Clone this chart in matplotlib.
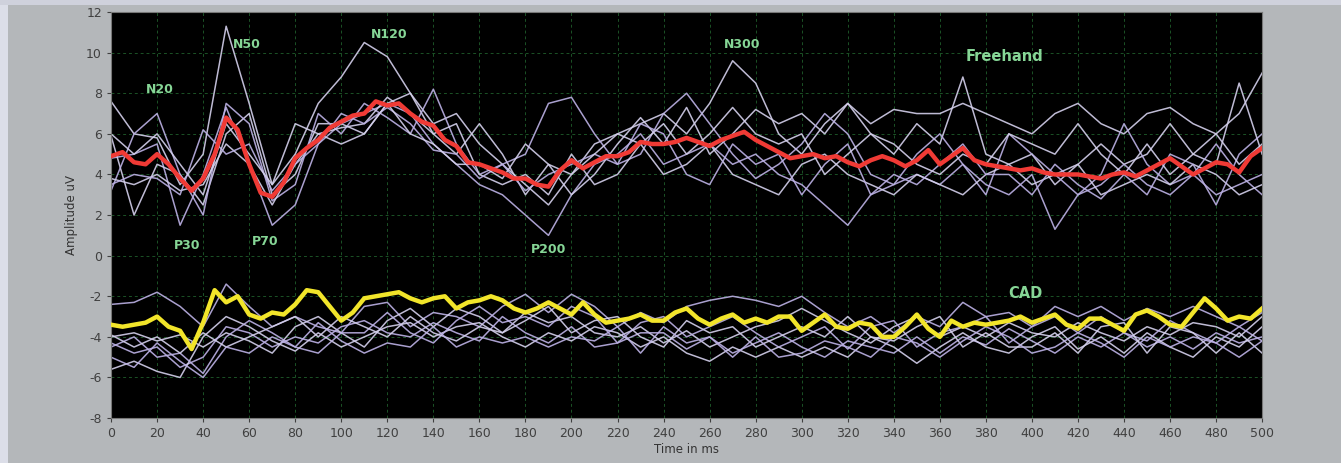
import matplotlib.pyplot as plt
from matplotlib.patches import Rectangle
import numpy as np

plt.rcParams["axes.unicode_minus"] = False

# time bases (ms)
t_mean = np.arange(0, 501, 5)
t_trial = np.arange(0, 501, 10)

# grand averages, every 5 ms
freehand_mean = [
    4.9, 5.1, 4.6, 4.5, 5.0, 4.5, 3.8, 3.2, 3.8, 5.0,
    6.8, 6.2, 4.5, 3.1, 2.9, 3.6, 4.8, 5.3, 5.7, 6.3,
    6.6, 6.9, 7.0, 7.6, 7.4, 7.5, 7.0, 6.6, 6.4, 5.7,
    5.4, 4.6, 4.5, 4.3, 4.1, 3.8, 3.8, 3.5, 3.4, 4.2,
    4.7, 4.3, 4.6, 4.9, 4.9, 5.1, 5.6, 5.5, 5.5, 5.6,
    5.8, 5.6, 5.4, 5.7, 5.9, 6.1, 5.7, 5.4, 5.1, 4.8,
    4.9, 5.0, 4.8, 4.9, 4.6, 4.4, 4.7, 4.9, 4.7, 4.4,
    4.7, 5.2, 4.5, 4.9, 5.3, 4.7, 4.5, 4.4, 4.3, 4.2,
    4.3, 4.1, 4.0, 4.0, 4.0, 3.9, 3.8, 4.0, 4.1, 3.9,
    4.2, 4.5, 4.8, 4.4, 4.0, 4.3, 4.6, 4.5, 4.1, 4.9,
    5.3,
]
cad_mean = [
    -3.4, -3.5, -3.4, -3.3, -3.0, -3.5, -3.7, -4.6, -3.3, -1.7,
    -2.3, -2.0, -2.9, -3.1, -2.8, -2.9, -2.4, -1.7, -1.8, -2.5,
    -3.2, -2.8, -2.1, -2.0, -1.9, -1.8, -2.1, -2.3, -2.1, -2.0,
    -2.6, -2.3, -2.2, -2.0, -2.2, -2.6, -2.8, -2.6, -2.3, -2.6,
    -2.9, -2.3, -2.9, -3.3, -3.2, -3.1, -2.9, -3.2, -3.2, -2.8,
    -2.6, -3.1, -3.4, -3.1, -2.9, -3.3, -3.1, -3.3, -3.0, -3.0,
    -3.7, -3.3, -2.9, -3.5, -3.6, -3.3, -3.4, -4.0, -4.0, -3.5,
    -2.9, -3.6, -4.0, -3.2, -3.5, -3.3, -3.4, -3.3, -3.2, -3.0,
    -3.3, -3.1, -2.9, -3.4, -3.6, -3.1, -3.1, -3.4, -3.7, -2.9,
    -2.7, -3.0, -3.4, -3.5, -2.8, -2.1, -2.6, -3.2, -3.0, -3.1,
    -2.6,
]

# single subject traces, every 10 ms
freehand_trials = [
    [7.6, 6.0, 5.8, 3.5, 5.0, 11.3, 7.5, 3.5, 5.0, 7.5, 8.8, 10.5, 9.8, 8.0, 6.5, 7.0, 5.5,
     4.5, 3.5, 2.5, 4.0, 5.5, 6.0, 6.5, 7.0, 6.0, 7.5, 9.6, 8.5, 6.0, 5.0, 6.5, 7.5, 6.0,
     5.0, 6.5, 5.5, 8.8, 5.0, 4.5, 5.0, 3.5, 4.5, 5.5, 4.5, 5.0, 6.5, 5.0, 4.5, 8.5, 5.0],
    [4.8, 5.0, 5.5, 1.5, 4.0, 7.3, 4.5, 1.5, 2.5, 5.5, 6.5, 7.0, 7.5, 7.0, 5.5, 4.5, 3.5,
     3.0, 2.0, 1.0, 3.0, 4.5, 5.0, 6.0, 4.5, 5.0, 5.5, 4.5, 5.0, 4.0, 3.5, 2.5, 1.5, 3.0,
     3.5, 4.0, 3.5, 4.5, 3.5, 3.0, 4.0, 1.3, 3.0, 3.5, 4.5, 3.5, 3.0, 4.0, 3.0, 3.5, 4.0],
    [5.9, 2.0, 4.5, 4.0, 2.5, 6.0, 7.0, 3.0, 4.0, 6.5, 6.5, 6.0, 7.5, 8.0, 6.0, 5.0, 6.5,
     5.0, 3.0, 4.5, 3.0, 4.0, 5.5, 6.8, 5.5, 7.3, 5.0, 6.0, 7.2, 6.5, 7.0, 6.0, 7.5, 6.5,
     7.2, 7.0, 7.0, 7.5, 7.0, 6.5, 6.0, 7.0, 7.5, 6.5, 6.0, 7.0, 7.3, 6.5, 6.0, 7.0, 9.0],
    [3.2, 6.0, 7.0, 4.0, 2.0, 7.5, 6.5, 2.7, 3.5, 7.0, 6.0, 7.5, 6.8, 6.0, 8.2, 5.5, 4.0,
     4.5, 5.0, 7.5, 7.8, 6.0, 4.5, 5.0, 7.0, 8.0, 6.5, 5.0, 3.8, 4.5, 5.5, 7.0, 6.0, 4.0,
     3.5, 5.0, 6.0, 4.5, 3.0, 6.0, 5.0, 4.0, 3.0, 4.0, 6.5, 4.5, 3.5, 4.0, 5.5, 4.0, 3.0],
    [3.8, 3.5, 4.0, 3.2, 3.5, 5.5, 4.5, 2.5, 4.5, 6.0, 6.3, 6.5, 7.8, 7.0, 6.0, 6.5, 4.0,
     3.5, 4.0, 3.0, 5.0, 3.5, 4.0, 5.5, 4.0, 4.5, 5.5, 4.0, 3.5, 3.0, 4.5, 5.0, 4.0, 3.5,
     3.0, 4.0, 3.5, 3.0, 4.0, 4.5, 3.5, 4.0, 4.5, 3.0, 3.5, 4.0, 3.5, 4.5, 4.0, 3.0, 3.5],
    [3.5, 4.0, 3.8, 3.0, 6.2, 5.0, 5.5, 3.2, 4.5, 5.5, 7.0, 6.5, 7.3, 6.5, 5.2, 5.0, 3.8,
     4.5, 3.2, 4.0, 4.5, 5.0, 4.5, 6.5, 6.0, 4.0, 3.5, 5.5, 4.5, 5.0, 3.0, 4.5, 5.5, 3.0,
     4.0, 3.5, 4.5, 5.5, 4.0, 4.0, 3.0, 4.5, 3.5, 2.8, 4.0, 3.0, 5.0, 4.5, 2.5, 5.0, 6.0],
    [6.0, 5.0, 6.0, 4.5, 3.0, 6.5, 5.0, 3.5, 6.5, 6.0, 5.5, 6.0, 7.5, 6.0, 5.5, 4.5, 4.5,
     3.8, 5.5, 4.5, 4.0, 5.0, 6.0, 5.5, 6.5, 5.0, 6.0, 7.3, 6.0, 5.5, 6.0, 4.0, 5.0, 6.0,
     5.5, 4.5, 4.0, 5.0, 4.5, 6.0, 5.5, 5.0, 6.5, 5.0, 4.0, 5.5, 4.0, 5.0, 6.0, 4.5, 5.5],
]
cad_trials = [
    [-2.4, -2.3, -1.8, -2.5, -3.5, -1.4, -2.5, -3.5, -3.0, -3.5, -3.8, -2.5, -2.3, -3.5,
     -2.8, -3.0, -3.5, -2.5, -1.9, -2.8, -1.9, -2.5, -3.5, -2.8, -3.3, -2.5, -2.2, -2.0,
     -2.2, -2.5, -2.0, -2.8, -3.5, -3.0, -3.8, -3.0, -3.5, -2.3, -3.0, -2.8, -3.5, -2.5,
     -3.0, -2.5, -3.2, -2.6, -3.0, -2.5, -3.0, -3.5, -2.8],
    [-4.0, -3.8, -4.2, -3.9, -4.5, -3.8, -4.2, -4.8, -3.5, -3.0, -3.8, -4.5, -3.2, -2.6,
     -3.5, -2.6, -3.0, -3.8, -2.8, -3.3, -3.0, -3.8, -4.0, -3.5, -4.3, -3.7, -4.5, -4.0,
     -3.5, -3.2, -2.6, -3.2, -3.8, -4.3, -3.5, -3.0, -4.0, -3.5, -4.0, -3.3, -3.8, -4.0,
     -3.3, -3.8, -4.2, -3.5, -3.9, -3.3, -3.5, -4.0, -3.0],
    [-4.3, -4.8, -4.5, -5.5, -5.0, -3.5, -3.8, -4.5, -4.0, -4.3, -3.5, -3.2, -3.8, -4.0,
     -3.3, -3.8, -4.2, -3.0, -3.8, -4.3, -3.5, -4.5, -4.3, -3.8, -3.8, -4.6, -4.0, -4.8,
     -4.3, -3.8, -4.5, -5.0, -4.2, -4.5, -4.8, -4.0, -4.8, -4.0, -4.4, -3.6, -4.2, -4.8,
     -4.0, -4.5, -3.8, -4.5, -4.0, -4.6, -3.8, -4.3, -4.0],
    [-5.6, -5.2, -5.7, -6.0, -4.0, -3.0, -3.5, -4.2, -4.7, -3.8, -4.5, -4.0, -3.5, -3.3,
     -4.0, -3.5, -3.3, -4.0, -4.5, -3.8, -4.2, -3.5, -3.8, -4.5, -4.0, -4.8, -5.2, -4.5,
     -5.0, -4.5, -5.0, -4.5, -5.0, -4.0, -4.5, -5.3, -4.5, -3.8, -4.5, -4.8, -4.0, -3.5,
     -4.6, -4.0, -4.8, -3.8, -4.5, -5.0, -4.0, -4.5, -3.5],
    [-4.5, -4.0, -5.0, -4.8, -5.8, -4.0, -3.2, -3.8, -4.5, -4.8, -3.8, -3.8, -2.8, -3.8,
     -4.3, -3.2, -2.5, -3.3, -3.0, -3.5, -2.5, -3.0, -4.3, -3.3, -3.0, -4.0, -3.5, -3.0,
     -3.8, -4.5, -4.0, -3.5, -4.6, -3.5, -3.2, -4.5, -3.8, -3.5, -3.0, -4.3, -3.5, -3.0,
     -3.8, -3.0, -3.8, -4.2, -3.2, -3.8, -4.3, -3.5, -4.2],
    [-3.9, -4.5, -4.0, -4.8, -3.8, -4.5, -4.0, -3.5, -3.0, -4.0, -3.0, -3.5, -4.0, -3.0,
     -3.8, -4.2, -3.5, -3.8, -3.2, -2.5, -3.8, -3.2, -3.0, -4.0, -4.5, -3.2, -3.8, -3.5,
     -4.5, -4.0, -3.5, -4.0, -3.0, -4.0, -4.2, -3.5, -3.0, -4.5, -3.8, -4.5, -4.5, -3.8,
     -4.8, -3.5, -3.3, -4.8, -3.5, -3.8, -4.8, -3.8, -4.8],
    [-5.0, -5.5, -4.3, -5.2, -6.0, -4.5, -4.8, -4.0, -4.5, -3.3, -4.2, -4.8, -4.3, -4.5,
     -3.5, -4.5, -4.0, -4.3, -4.0, -4.5, -4.0, -4.2, -3.5, -4.8, -3.5, -4.3, -4.0, -5.0,
     -4.0, -5.0, -4.8, -4.2, -4.5, -5.0, -4.0, -4.3, -5.0, -4.2, -3.5, -4.0, -4.8, -4.5,
     -3.8, -4.3, -5.0, -4.0, -4.5, -4.0, -4.3, -5.0, -4.2],
]

# component labels: (text, time, amplitude)
peak_labels = [
    ("N20", 21, 8.2), ("N50", 59, 10.4), ("N120", 121, 10.9),
    ("P30", 33, 0.5), ("P70", 67, 0.7), ("P200", 190, 0.3), ("N300", 274, 10.4),
]
group_labels = [("Freehand", 388, 9.8), ("CAD", 397, -1.85)]

fig = plt.figure(figsize=(13.41, 4.63), dpi=100, facecolor="#b4b7ba")
# light frame strips of the screenshot
fig.patches.append(Rectangle((0, 0), 0.006, 1, transform=fig.transFigure,
                             facecolor="#dcdee8", edgecolor="none", zorder=-1))
fig.patches.append(Rectangle((0, 0.99), 1, 0.01, transform=fig.transFigure,
                             facecolor="#cfd1dc", edgecolor="none", zorder=-1))

ax = fig.add_axes([0.0828, 0.097, 0.8584, 0.877])
ax.set_facecolor("black")

trace_cols = ["#d4d0ec", "#bdb2e6"]
for i, tr in enumerate(freehand_trials):
    ax.plot(t_trial, tr, color=trace_cols[i % 2], lw=1.1, alpha=0.9, zorder=2)
for i, tr in enumerate(cad_trials):
    ax.plot(t_trial, tr, color=trace_cols[(i + 1) % 2], lw=1.1, alpha=0.9, zorder=2)

ax.plot(t_mean, freehand_mean, color="#f03a35", lw=3.2, zorder=4)
ax.plot(t_mean, cad_mean, color="#f2e52a", lw=3.2, zorder=4)

green = "#86d696"
for txt, x, y in peak_labels:
    ax.text(x, y, txt, color=green, fontsize=9, fontweight="bold",
            ha="center", va="center", zorder=5)
for txt, x, y in group_labels:
    ax.text(x, y, txt, color=green, fontsize=10.5, fontweight="bold",
            ha="center", va="center", zorder=5)

ax.set_xlim(0, 500)
ax.set_ylim(-8, 12)
ax.set_xticks(np.arange(0, 501, 20))
ax.set_yticks(np.arange(-8, 13, 2))
ax.grid(True, color="#1b5226", linestyle=(0, (3, 3)), lw=0.7, zorder=1)
ax.tick_params(colors="#404040", labelsize=9, length=3, width=0.8)
for s in ax.spines.values():
    s.set_color("#777777")
    s.set_linewidth(0.8)

ax.set_xlabel("Time in ms", fontsize=8.5, color="#333333", labelpad=2)
ax.set_ylabel("Amplitude uV", fontsize=8.5, color="#333333", labelpad=6)

fig.savefig("out.png", dpi=100, facecolor=fig.get_facecolor())
